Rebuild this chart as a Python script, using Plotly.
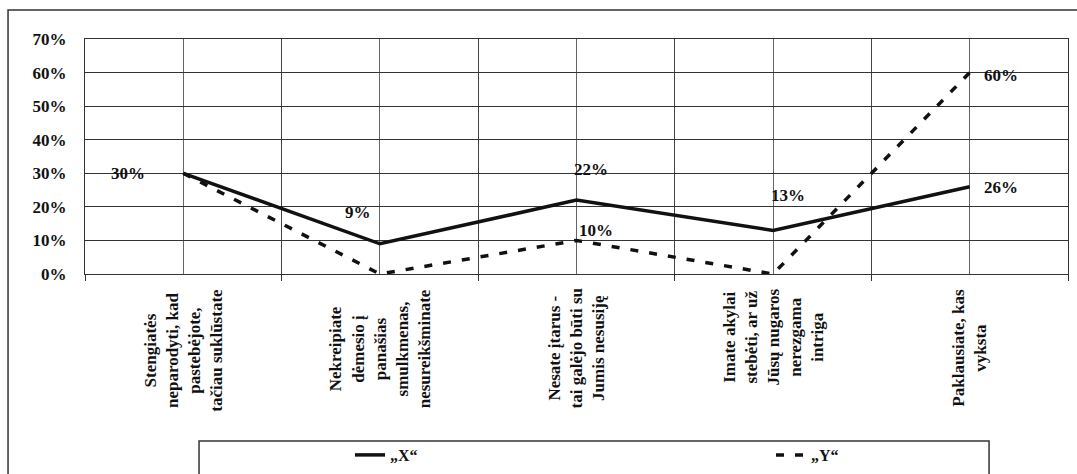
import plotly.graph_objects as go

categories = [
    "Stengiatės<br>neparodyti, kad<br>pastebėjote,<br>tačiau suklūstate",
    "Nekreipiate<br>dėmesio į<br>panašias<br>smulkmenas,<br>nesureikšminate",
    "Nesate įtarus -<br>tai galėjo būti su<br>Jumis nesusiję",
    "Imate akylai<br>stebėti, ar už<br>Jūsų nugaros<br>nerezgama<br>intriga",
    "Paklausiate, kas<br>vyksta",
]
series_x_name = "\u201eX\u201c"
series_y_name = "\u201eY\u201c"
series_x = [0.30, 0.09, 0.22, 0.13, 0.26]
series_y = [0.30, 0.00, 0.10, 0.00, 0.60]
y_ticks = [0, 0.1, 0.2, 0.3, 0.4, 0.5, 0.6, 0.7]

# label offsets (style): (xshift, yshift) in px
x_label_offsets = [(-55, 0), (-22, 31), (14, 31), (15, 35), (31, -1)]
y_label_offsets = [None, None, (19, 10), None, (31, -3)]

FONT = "Liberation Serif"
idx = list(range(len(categories)))

fig = go.Figure()
fig.add_trace(go.Scatter(x=idx, y=series_x, mode="lines", name=series_x_name,
                         line=dict(color="#111111", width=3.5), cliponaxis=False))
fig.add_trace(go.Scatter(x=idx, y=series_y, mode="lines", name=series_y_name,
                         line=dict(color="#111111", width=3.5, dash="8px,11px"), cliponaxis=False))

annotations = []
for vals, offs in ((series_x, x_label_offsets), (series_y, y_label_offsets)):
    for i, v in enumerate(vals):
        off = offs[i]
        if off is None:
            continue
        annotations.append(dict(x=i, y=v, xref="x", yref="y", text=f"<b>{round(v*100)}%</b>",
                                showarrow=False, xanchor="center", yanchor="middle",
                                xshift=off[0], yshift=off[1],
                                font=dict(family=FONT, size=17, color="#111111")))
for i, c in enumerate(categories):
    annotations.append(dict(x=i, y=-0.055, xref="x", yref="paper", text=f"<b>{c}</b>",
                            showarrow=False, textangle=-90, xanchor="center", yanchor="top",
                            align="center",
                            font=dict(family=FONT, size=17, color="#111111")))

fig.update_layout(
    width=1077, height=474,
    margin=dict(l=85, r=9, t=39, b=200, autoexpand=False),
    paper_bgcolor="white", plot_bgcolor="white",
    font=dict(family=FONT, size=16, color="#111111"),
    showlegend=True,
    legend=dict(orientation="h", xref="container", yref="container",
                x=350 / 1077, xanchor="left", y=1 - 455 / 474, yanchor="middle",
                bgcolor="rgba(0,0,0,0)", borderwidth=0, entrywidth=376,
                font=dict(family=FONT, size=16, color="#111111", weight="bold")),
    annotations=annotations,
    shapes=[
        dict(type="rect", xref="paper", yref="paper", x0=-0.0783, x1=1.012, y0=-0.9, y1=1.1234,
             line=dict(color="#333333", width=1.5), layer="below"),
        dict(type="rect", xref="paper", yref="paper", x0=0.116, x1=0.9197, y0=-0.9, y1=-0.7106,
             line=dict(color="#333333", width=1.5), layer="below"),
    ],
)
fig.update_xaxes(
    range=[-0.5, 4.5], tickvals=idx, ticktext=[""] * len(idx), ticks="",
    showgrid=True, gridcolor="#666666", gridwidth=1,
    minor=dict(tickvals=[i - 0.5 for i in range(len(idx) + 1)], ticks="outside", ticklen=6,
               tickcolor="#333333", showgrid=True, gridcolor="#444444", gridwidth=1),
    showline=True, linecolor="#333333", linewidth=1, mirror=True, zeroline=False,
)
fig.update_yaxes(
    range=[0, 0.7], tickvals=y_ticks, tickformat=".0%", ticks="",
    tickfont=dict(family=FONT, size=17, color="#111111", weight="bold"),
    ticklabelstandoff=14,
    showgrid=True, gridcolor="#333333", gridwidth=1,
    showline=True, linecolor="#333333", linewidth=1, mirror=True, zeroline=False,
)

fig.write_html("out.html")
